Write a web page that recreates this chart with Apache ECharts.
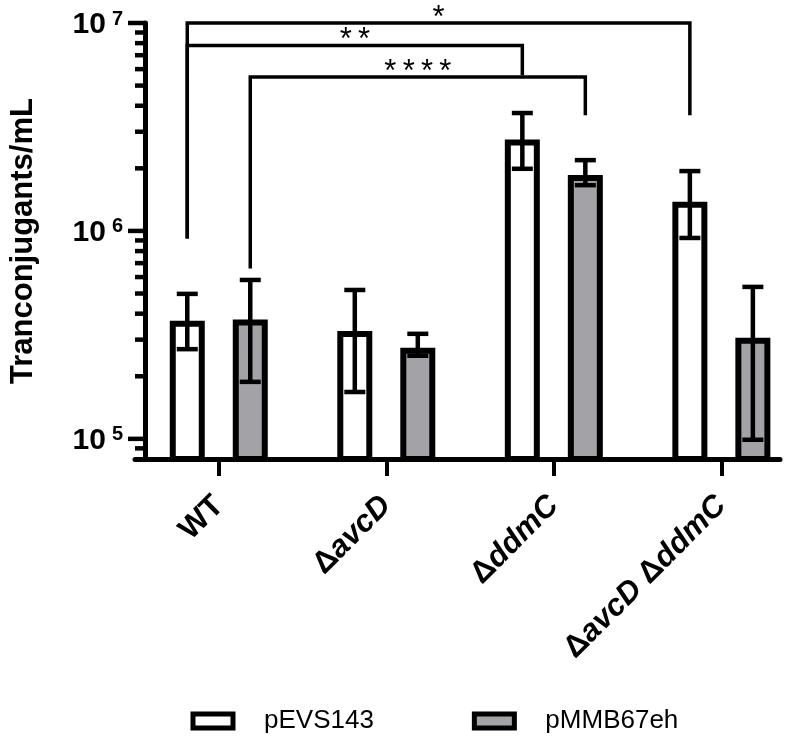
<!DOCTYPE html>
<html><head><meta charset="utf-8">
<script src="https://cdn.jsdelivr.net/npm/echarts@6/dist/echarts.min.js"></script>
<style>html,body{margin:0;padding:0;background:#fff}#c{width:800px;height:743px}</style>
</head><body><div id="c"></div>
<script>
// ---------- data ----------
const categories = ['WT', 'ΔavcD', 'ΔddmC', 'ΔavcD ΔddmC'];
const seriesNames = ['pEVS143', 'pMMB67eh'];
const pEVS143Mean = [3.7e5, 3.3e5, 2.75e6, 1.38e6];
const pEVS143Low  = [2.7e5, 1.68e5, 1.99e6, 9.25e5];
const pEVS143High = [4.98e5, 5.2e5, 3.69e6, 1.94e6];
const pMMB67ehMean = [3.75e5, 2.74e5, 1.86e6, 3.06e5];
const pMMB67ehLow  = [1.88e5, 2.51e5, 1.66e6, 9.9e4];
const pMMB67ehHigh = [5.81e5, 3.2e5, 2.19e6, 5.38e5];
const yMajorTicks = [1e5, 1e6, 1e7];
const yMajorExponents = ['5', '6', '7'];
const yMinorTicks = [9e4, 2e5, 3e5, 4e5, 5e5, 6e5, 7e5, 8e5, 9e5, 2e6, 3e6, 4e6, 5e6, 6e6, 7e6, 8e6, 9e6];
const xTickValues = [0, 1, 2, 3];
// significance brackets
const bracketLabels = ['*', '**', '****'];
const bracketFromCat = [0, 0, 0];
const bracketFromSeries = [0, 0, 1];
const bracketToCat = [3, 2, 2];
const bracketToSeries = [0, 0, 1];
const bracketLevel = [1e7, 7.8e6, 5.5e6];
const bracketFromEnd = [9.2e5, 9.2e5, 6.6e5];
const bracketToEnd = [3.6e6, 5.6e6, 3.6e6];
const yTitle = 'Tranconjugants/mL';

// ---------- style ----------
const FONT = '"Liberation Sans", Arial, Helvetica, sans-serif';
const X_MIN = -0.5, X_MAX = 3.35;
const Y_MIN = 8e4, Y_MAX = 1e7;
const Y_AXIS_SHIFT = 10;
const BAR_W = 35, BAR_GAP_PX = 28;
const SERIES_OFFSET = [-(BAR_W + BAR_GAP_PX) / 2, (BAR_W + BAR_GAP_PX) / 2];
const GRAY = '#a3a2a7';
const XLAB = 31;

function fmtCat(name) {
  return name.split(' ').map(tok => tok.charAt(0) === 'Δ'
    ? '{d|Δ}{i|' + tok.slice(1) + '}'
    : '{n|' + tok + '}').join('{n| }');
}

function errorBarSeries(idx, low, high) {
  return {
    type: 'custom',
    z: 5,
    silent: true,
    data: low.map((v, i) => [i, v, high[i]]),
    encode: { x: 0, y: [1, 2] },
    renderItem: function (params, api) {
      const x = api.coord([api.value(0), api.value(1)])[0] + SERIES_OFFSET[idx];
      const yl = api.coord([api.value(0), api.value(1)])[1];
      const yh = api.coord([api.value(0), api.value(2)])[1];
      const st = { stroke: '#000', lineWidth: 4.5 };
      return { type: 'group', children: [
        { type: 'line', shape: { x1: x, y1: yl, x2: x, y2: yh }, style: st },
        { type: 'line', shape: { x1: x - 10.5, y1: yl, x2: x + 10.5, y2: yl }, style: st },
        { type: 'line', shape: { x1: x - 10.5, y1: yh, x2: x + 10.5, y2: yh }, style: st }
      ]};
    }
  };
}

const chart = echarts.init(document.getElementById('c'), null, { renderer: 'canvas' });
const option = {
  animation: false,
  textStyle: { fontFamily: FONT },
  grid: { left: 130, right: 20, top: 23, bottom: 284, containLabel: false },
  legend: {
    data: seriesNames,
    left: 190.5, top: 708, padding: 0,
    itemWidth: 40, itemHeight: 14, itemGap: 98,
    icon: 'rect',
    itemStyle: { borderWidth: 5, borderColor: '#000' },
    formatter: n => '{t|' + n + '}',
    textStyle: { rich: { t: { fontSize: 26, color: '#000', fontFamily: FONT, padding: [0, 0, 0, 26] } } }
  },
  xAxis: {
    type: 'value', min: X_MIN, max: X_MAX,
    splitLine: { show: false },
    axisLine: { onZero: false, lineStyle: { color: '#000', width: 5 } },
    axisTick: { customValues: xTickValues, length: 17, lineStyle: { color: '#000', width: 4 } },
    axisLabel: {
      customValues: xTickValues, rotate: 45, margin: 42,
      formatter: v => fmtCat(categories[v]),
      rich: {
        n: { fontSize: XLAB, fontWeight: 'bold', color: '#000', fontFamily: FONT },
        d: { fontSize: XLAB, fontWeight: 'bold', color: '#000', fontFamily: FONT },
        i: { fontSize: XLAB, fontWeight: 'bold', fontStyle: 'italic', color: '#000', fontFamily: FONT }
      }
    }
  },
  yAxis: {
    type: 'log', logBase: 10, min: Y_MIN, max: Y_MAX, offset: -Y_AXIS_SHIFT,
    splitLine: { show: false },
    axisLine: { show: true, onZero: false, lineStyle: { color: '#000', width: 5 } },
    axisTick: { show: false }, axisLabel: { show: false },
    name: yTitle, nameLocation: 'middle', nameRotate: 90, nameGap: 106,
    nameTextStyle: { fontSize: 31, fontWeight: 'bold', color: '#000', fontFamily: FONT }
  },
  series: [
    {
      name: seriesNames[0], type: 'bar', clip: true, z: 2,
      barWidth: BAR_W, barGap: (BAR_GAP_PX / BAR_W * 100) + '%',
      data: pEVS143Mean.map((v, i) => [i, v]),
      itemStyle: { color: '#fff', borderColor: '#000', borderWidth: 6 }
    },
    {
      name: seriesNames[1], type: 'bar', clip: true, z: 2,
      barWidth: BAR_W, barGap: (BAR_GAP_PX / BAR_W * 100) + '%',
      data: pMMB67ehMean.map((v, i) => [i, v]),
      itemStyle: { color: GRAY, borderColor: '#000', borderWidth: 6 }
    },
    errorBarSeries(0, pEVS143Low, pEVS143High),
    errorBarSeries(1, pMMB67ehLow, pMMB67ehHigh),
    { // major y ticks + labels
      type: 'custom', silent: true, z: 6,
      data: yMajorTicks.map(v => [X_MIN, v]),
      renderItem: function (params, api) {
        const p = api.coord([api.value(0), api.value(1)]);
        const ax = p[0] + Y_AXIS_SHIFT;
        return { type: 'group', children: [
          { type: 'line', shape: { x1: ax - 17, y1: p[1], x2: ax, y2: p[1] }, style: { stroke: '#000', lineWidth: 4.5 } },
          { type: 'text', x: ax - 22, y: p[1] + 2, style: {
              text: '{b|10}{s|' + yMajorExponents[params.dataIndex] + '}',
              align: 'right', verticalAlign: 'middle',
              rich: {
                b: { fontSize: 30, fontWeight: 'bold', fill: '#000', fontFamily: FONT, lineHeight: 32 },
                s: { fontSize: 20, fontWeight: 'bold', fill: '#000', fontFamily: FONT, lineHeight: 22, verticalAlign: 'top', padding: [0, 0, 0, 6] }
              } } }
        ]};
      }
    },
    { // minor y ticks
      type: 'custom', silent: true, z: 6,
      data: yMinorTicks.map(v => [X_MIN, v]),
      renderItem: function (params, api) {
        const p = api.coord([api.value(0), api.value(1)]);
        const ax = p[0] + Y_AXIS_SHIFT;
        return { type: 'line', shape: { x1: ax - 10, y1: p[1], x2: ax, y2: p[1] }, style: { stroke: '#000', lineWidth: 4.5 } };
      }
    },
    { // significance brackets
      type: 'custom', silent: true, z: 7,
      data: bracketLevel.map((v, i) => [bracketFromCat[i], v]),
      renderItem: function (params, api) {
        const i = params.dataIndex;
        const x1 = api.coord([bracketFromCat[i], bracketLevel[i]])[0] + SERIES_OFFSET[bracketFromSeries[i]];
        const x2 = api.coord([bracketToCat[i], bracketLevel[i]])[0] + SERIES_OFFSET[bracketToSeries[i]];
        const yt = api.coord([bracketFromCat[i], bracketLevel[i]])[1];
        const y1 = api.coord([bracketFromCat[i], bracketFromEnd[i]])[1];
        const y2 = api.coord([bracketToCat[i], bracketToEnd[i]])[1];
        return { type: 'group', children: [
          { type: 'polyline', shape: { points: [[x1, y1], [x1, yt], [x2, yt], [x2, y2]] },
            style: { stroke: '#000', lineWidth: 3.5, fill: null, lineJoin: 'miter' } },
          { type: 'text', x: (x1 + x2) / 2, y: yt - 5, style: {
              text: bracketLabels[i].split('').join('\u2009'), align: 'center', verticalAlign: 'middle',
              fontSize: 31, fill: '#000', fontFamily: FONT } }
        ]};
      }
    }
  ]
};
chart.setOption(option);
</script></body></html>
